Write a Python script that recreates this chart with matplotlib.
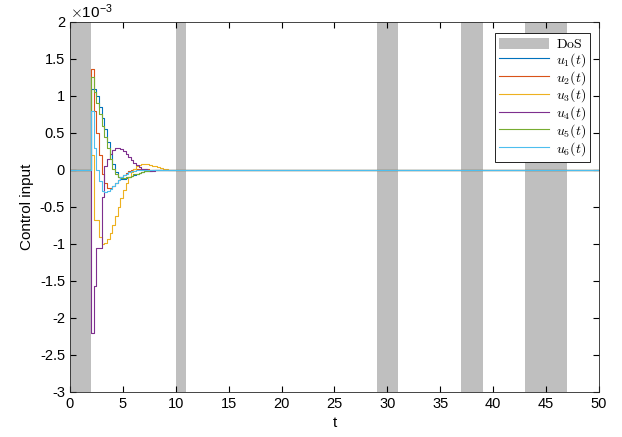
import numpy as np
import matplotlib
matplotlib.use("Agg")
import matplotlib.pyplot as plt
from matplotlib.patches import Patch
from matplotlib.ticker import FuncFormatter

plt.rcParams['font.family'] = ['Liberation Sans', 'DejaVu Sans']
plt.rcParams['mathtext.fontset'] = 'cm'

# DoS attack intervals (start, end)
dos_intervals = [(0, 2), (10, 11), (29, 31), (37, 39), (43, 47)]

# sampled control inputs (units of 1e-3), zero-order hold from t = 2
h = 0.25
t_start = 2.0
u1 = [1.10, 1.10, 1.00, 0.85, 0.70, 0.55, 0.38, 0.22, 0.08, -0.03, -0.09, -0.12,
      -0.12, -0.11, -0.10, -0.08, -0.07, -0.05, -0.04, -0.03, -0.02, -0.015, -0.01,
      -0.005, 0.0]
u2 = [1.37, 0.80, 0.50, 0.20, -0.05, -0.18, -0.25, -0.25, -0.22, -0.18, -0.14, -0.10,
      -0.07, -0.04, -0.02, 0.0, 0.01, 0.02, 0.02, 0.02, 0.015, 0.01, 0.005, 0.003, 0.0]
u3 = [0.20, -0.68, -0.68, -0.90, -1.00, -0.98, -0.93, -0.85, -0.75, -0.62, -0.50, -0.38,
      -0.27, -0.17, -0.09, -0.03, 0.02, 0.05, 0.07, 0.08, 0.08, 0.08, 0.07, 0.06,
      0.05, 0.04, 0.03, 0.02, 0.01, 0.005, 0.0]
u4 = [-2.20, -1.57, -1.05, -1.05, -0.36, 0.05, 0.15, 0.22, 0.27, 0.30, 0.30, 0.29,
      0.26, 0.22, 0.18, 0.14, 0.10, 0.07, 0.04, 0.02, 0.01, 0.0, -0.01, -0.01,
      -0.005, 0.0]
u5 = [1.25, 1.05, 0.90, 0.75, 0.60, 0.45, 0.30, 0.15, 0.02, -0.06, -0.10, -0.11,
      -0.11, -0.10, -0.09, -0.08, -0.06, -0.05, -0.04, -0.03, -0.02, -0.01, -0.005, 0.0]
u6 = [0.80, 0.30, 0.00, -0.15, -0.28, -0.30, -0.29, -0.26, -0.22, -0.18, -0.14,
      -0.10, -0.07, -0.05, -0.03, -0.02, -0.01, -0.005, 0.0]

series = [u1, u2, u3, u4, u5, u6]
labels = ['$u_1(t)$', '$u_2(t)$', '$u_3(t)$', '$u_4(t)$', '$u_5(t)$', '$u_6(t)$']
colors = ['#0072BD', '#D95319', '#EDB120', '#7E2F8E', '#77AC30', '#4DBEEE']

fig = plt.figure(figsize=(6.22, 4.37), dpi=100)
ax = fig.add_axes([0.1125, 0.103, 0.8505, 0.8467])

for a, b in dos_intervals:
    ax.axvspan(a, b, color='#BFBFBF', lw=0, zorder=0)

handles = [Patch(facecolor='#BFBFBF', edgecolor='none', label=r'$\mathrm{DoS}$')]
for u, lab, c in zip(series, labels, colors):
    vals = np.array(u) * 1e-3
    t = t_start + h * np.arange(len(vals))
    t = np.concatenate([[0.0], t, [50.0]])
    vals = np.concatenate([[0.0], vals, [0.0]])
    ln, = ax.plot(t, vals, color=c, lw=0.8, drawstyle='steps-post', label=lab)
    handles.append(ln)

ax.set_xlim(0, 50)
ax.set_ylim(-3e-3, 2e-3)
ax.set_xticks(np.arange(0, 51, 5))
ax.set_yticks(np.arange(-3e-3, 2.01e-3, 0.5e-3))
ax.yaxis.set_major_formatter(FuncFormatter(lambda v, p: f'{v * 1e3:g}'))
ax.tick_params(direction='in', top=True, right=True, labelsize=10.5, length=4)
for s in ax.spines.values():
    s.set_color('#262626')
    s.set_linewidth(0.6)

ax.text(0.0, 1.003, r'$\times$10$^{\mathregular{-3}}$', transform=ax.transAxes,
        fontsize=11, ha='left', va='bottom')
ax.set_xlabel('t', fontsize=11)
ax.set_ylabel('Control input', fontsize=11)

leg = ax.legend(handles=handles, loc='upper right', fontsize=10, fancybox=False,
                framealpha=1, edgecolor='black', borderpad=0.3, labelspacing=0.0,
                handlelength=3.6, handleheight=0.9, handletextpad=0.5,
                borderaxespad=0.0, bbox_to_anchor=(1 - 9 / 529, 1 - 11 / 370))
leg.get_frame().set_linewidth(0.6)

fig.savefig('out.png', dpi=100)
